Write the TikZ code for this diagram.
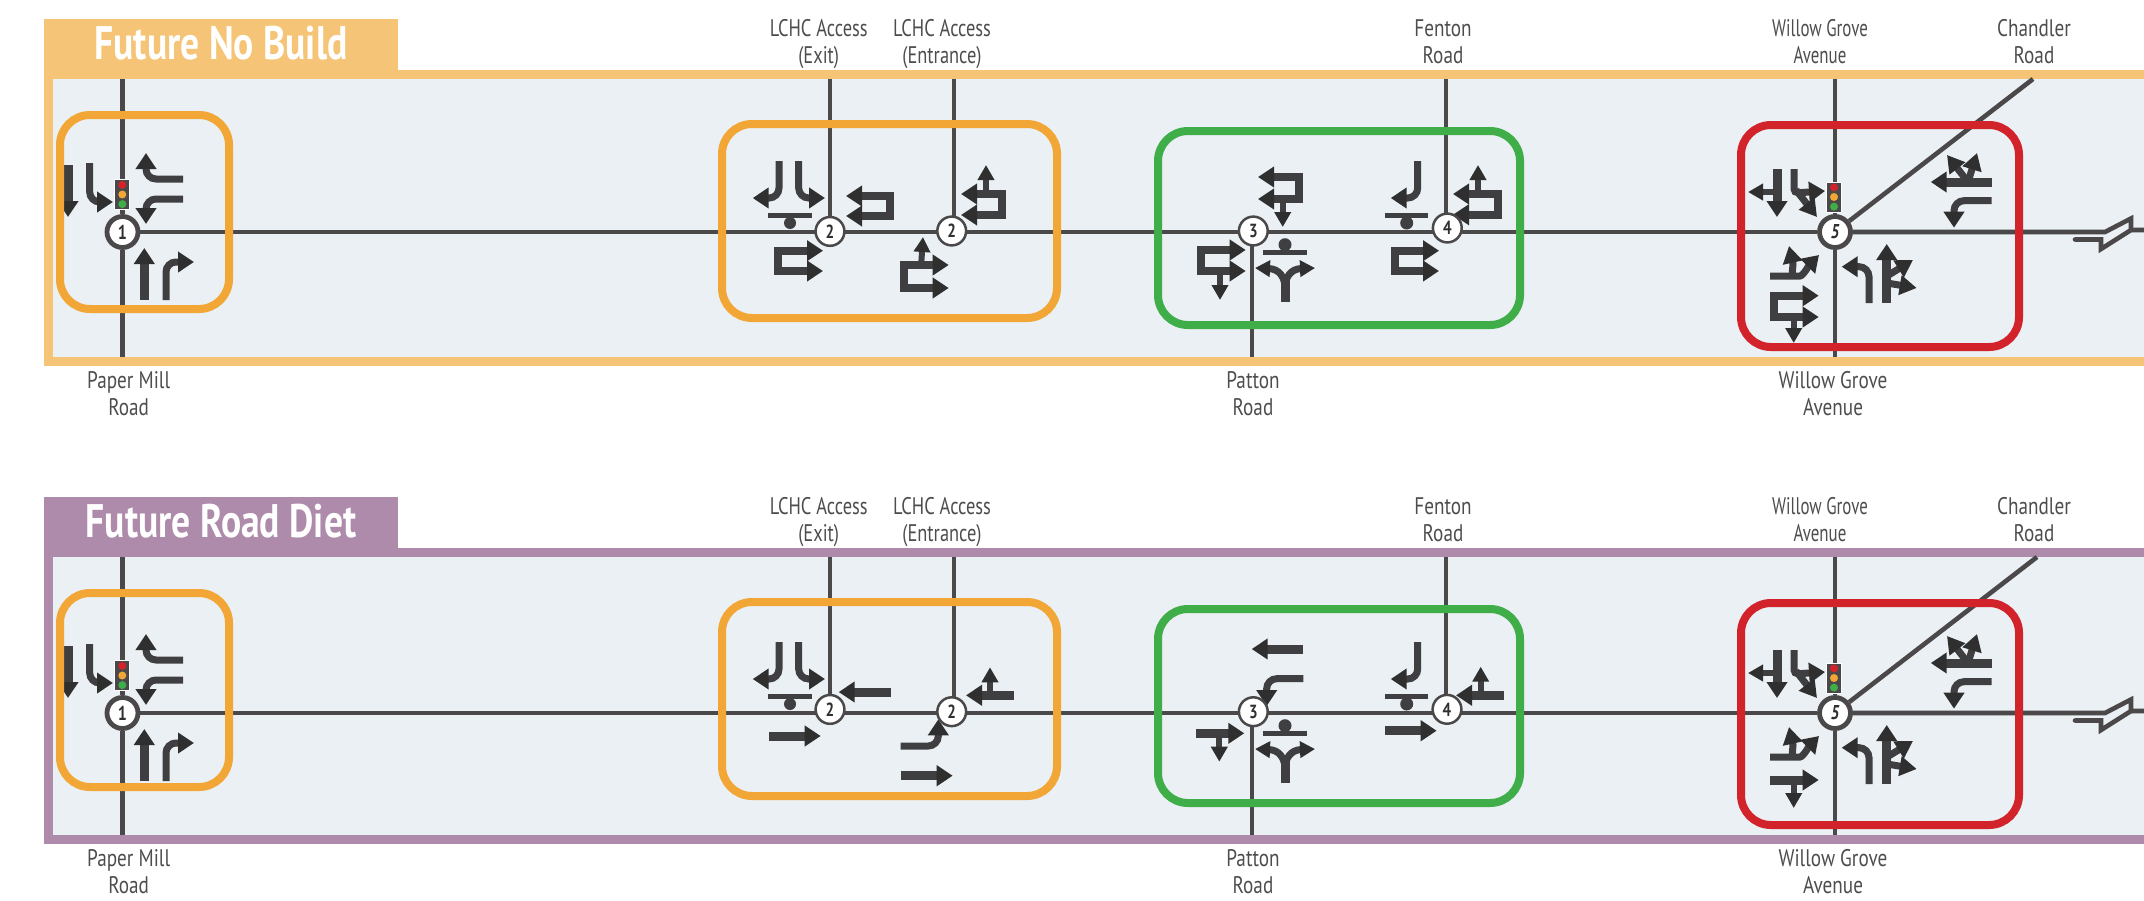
\documentclass[tikz,border=0pt]{standalone}
\usepackage{fontspec}
\setmainfont[FakeStretch=0.8]{PT Sans}
\usetikzlibrary{arrows.meta,backgrounds}
\definecolor{panelbg}{HTML}{EAF0F3}
\definecolor{tabor}{HTML}{F6C476}
\definecolor{tabpu}{HTML}{AE8BAB}
\definecolor{roadc}{HTML}{4A4849}
\definecolor{shaft}{HTML}{3F3E40}
\definecolor{headc}{HTML}{2F2F2F}
\definecolor{boxor}{HTML}{F2A636}
\definecolor{boxgr}{HTML}{3FAE49}
\definecolor{boxre}{HTML}{D2232A}
\definecolor{labc}{HTML}{4D4D4F}
\pgfdeclarelayer{nodes}
\pgfsetlayers{background,main,nodes}
\tikzset{
  road/.style={draw=roadc,line width=4.6pt},
  bighead/.tip={Triangle[length=16pt,width=20pt,color=headc]},
  subhead/.tip={Triangle[length=15pt,width=16pt,color=headc]},
  diaghead/.tip={Triangle[length=17pt,width=19pt,color=headc]},
  thr/.style={draw=shaft,line width=9pt,-{bighead}},
  turn/.style={draw=shaft,line width=7pt,rounded corners=10pt,-{bighead}},
  split/.style={draw=shaft,line width=7pt,-{subhead}},
  sub/.style={draw=shaft,line width=6pt,-{subhead}},
  diag/.style={draw=shaft,line width=7pt,-{diaghead}},
  lane/.style={draw=shaft,line width=8pt,miter limit=10,{bighead}-{bighead}},
  bar/.style={draw=shaft,line width=5pt},
  stopdot/.style={fill=shaft},
  regbox/.style={line width=8pt,rounded corners=30pt},
  numA/.style={circle,draw=roadc,fill=white,line width=4.8pt,minimum size=31pt,inner sep=0pt,text=headc,font=\fontsize{20}{20}\selectfont\bfseries},
  numB/.style={circle,draw=roadc,fill=white,line width=2.5pt,minimum size=28.8pt,inner sep=0pt,text=headc,font=\fontsize{19}{19}\selectfont\bfseries},
  sigbox/.style={rectangle,draw=white,line width=.7pt,fill=roadc,minimum width=15pt,minimum height=30pt,inner sep=0pt},
  lab/.style={text=labc,align=center,inner sep=0pt,font=\fontsize{24}{27}\selectfont},
  ttl/.style={text=white,anchor=base,inner sep=0pt,font=\fontsize{47}{47}\selectfont\bfseries}
}
% frame: prefix, colour, title, offset
\newcommand{\panelframe}[4]{%
  \begin{scope}[shift={(0,#4)}]
    \fill[panelbg] (48.5,74.5) rectangle (2150,361.5);
    \fill[#2] (44,19) rectangle (398,74);
    \draw[#2,line width=9pt] (2150,74.5) -- (48.5,74.5) -- (48.5,361.5) -- (2150,361.5);
    \node[ttl] (#1title) at (221,59) {#3};
    \coordinate (#1top) at (0,79);
    \coordinate (#1bot) at (0,357);
    \coordinate (#1exit) at (830,79);
    \coordinate (#1ent) at (954,79);
    \coordinate (#1fen) at (1446,79);
    \coordinate (#1pat) at (1252,357);
  \end{scope}}
% region boxes and road labels
\newcommand{\panellabels}[2]{%
  \begin{scope}[shift={(0,#2)}]
    \draw[boxor,regbox] (60,115) rectangle (229,309);
    \draw[boxor,regbox] (722,124) rectangle (1057,318);
    \draw[boxgr,regbox] (1158,131) rectangle (1520,325);
    \draw[boxre,regbox] (1741,125) rectangle (2019,347);
    \node[lab] (#1l1) at (128.7,394) {Paper Mill\\Road};
    \node[lab,xscale=.96] (#1l2) at (818.7,44.5) {LCHC Access\\(Exit)};
    \node[lab,xscale=.96] (#1l3) at (942,44.5) {LCHC Access\\(Entrance)};
    \node[lab] (#1l4) at (1253,394) {Patton\\Road};
    \node[lab] (#1l5) at (1443,41.5) {Fenton\\Road};
    \node[lab,xscale=.88] (#1l6) at (1820,41.5) {Willow Grove\\Avenue};
    \node[lab] (#1l7) at (2034,41.5) {Chandler\\Road};
    \node[lab] (#1l8) at (1833,394) {Willow Grove\\Avenue};
  \end{scope}}
% roads: prefix, offset, chandler top x
\newcommand{\panelroads}[3]{%
  \coordinate (#1chand) at (#3,0 |- #1top);
  \draw[road] (#1n1) -- (#1n5);
  \draw[road] (#1n1) -- (#1n1 |- #1top);
  \draw[road] (#1n1) -- (#1n1 |- #1bot);
  \draw[road] (#1exit) -- (#1exit |- #1n2a);
  \draw[road] (#1ent) -- (#1ent |- #1n2b);
  \draw[road] (#1fen) -- (#1fen |- #1n4);
  \draw[road] (#1pat) -- (#1pat |- #1n3);
  \draw[road] (#1n5) -- (#1n5 |- #1top);
  \draw[road] (#1n5) -- (#1n5 |- #1bot);
  \draw[road] (#1n5) -- (#1chand);
  \begin{scope}[shift={(0,#2)}]
    \draw[road] (#1n5) -- (2105,232) -- (2131,218.5) -- (2131,232);
    \draw[road,line cap=round] (2075,239.5) -- (2101,239.5) -- (2101,249) -- (2131,230) -- (2150,230);
  \end{scope}}
% arrows that are the same in both panels
\newcommand{\commonarrows}[1]{%
  \begin{scope}[shift={(0,#1)}]
    \draw[thr] (68,165) -- (68,217);
    \draw[turn] (89.7,163) -- (89.7,202) -- (113,202);
    \draw[turn] (183,179) -- (146,179) -- (146,153);
    \draw[turn] (183,199) -- (146,199) -- (146,224);
    \draw[thr] (144.3,300) -- (144.3,248);
    \draw[turn] (166,300) -- (166,262) -- (194,262);
    % exit
    \draw[turn] (779,161) -- (779,198) -- (752.7,198);
    \draw[turn] (798.7,161) -- (798.7,198) -- (825,198);
    \draw[bar] (768,215.7) -- (812,215.7);
    \fill[stopdot] (790,223) circle (6pt);
    % intersection 3 stop and split
    \draw[bar] (1263,252) -- (1307,252);
    \fill[stopdot] (1285,244.7) circle (6.5pt);
    \draw[draw=shaft,line width=9pt] (1285,302) -- (1285,278);
    \draw[split] (1285,288) .. controls (1285,277) and (1279,269) .. (1255,268);
    \draw[split] (1285,288) .. controls (1285,277) and (1291,269) .. (1315,268);
    % intersection 4
    \draw[turn] (1417.7,161) -- (1417.7,198) -- (1390.7,198);
    \draw[bar] (1385,215) -- (1428,215);
    \fill[stopdot] (1406.7,223) circle (6.5pt);
    % intersection 5
    \draw[thr] (1777,169) -- (1777,217);
    \draw[sub] (1777,192) -- (1748,192);
    \draw[turn,rounded corners=4pt] (1794,169) -- (1794,193) -- (1825,191);
    \draw[diag] (1796,190) -- (1817,217);
    \draw[thr] (1991.7,182) -- (1930.7,182);
    \draw[diag] (1968,182) -- (1947,155);
    \draw[diag] (1968,182) -- (1977,153);
    \draw[turn] (1991.7,200.7) -- (1954,200.7) -- (1954,227.7);
    \draw[turn] (1770,276) -- (1790,276) .. controls (1803,276) and (1810,264) .. (1819,255);
    \draw[diag] (1792,276) -- (1793,264) -- (1789,246);
    \draw[turn] (1869,303) -- (1869,266.7) -- (1841.7,266.7);
    \draw[thr] (1886.7,303) -- (1886.7,244);
    \draw[diag] (1887,276) -- (1913,260);
    \draw[diag] (1887,283) -- (1916.7,288);
  \end{scope}}
\newcommand{\signal}[4]{% name, x, y, dy of lights
  \node[sigbox] (#1) at (#2,#3) {};
  \fill[boxre] (#2,#3-9.6) circle (4pt);
  \fill[boxor] (#2,#3) circle (4pt);
  \fill[boxgr] (#2,#3+9.6) circle (4pt);}
\begin{document}
\begin{tikzpicture}[x=1pt,y=-1pt]
\clip (0,0) rectangle (2144,900);
% ---- panel A: Future No Build
\begin{pgfonlayer}{nodes}
  \node[numA] (an1) at (122.5,232) {1};
  \node[numB] (an2a) at (830,231.4) {2};
  \node[numB] (an2b) at (951.7,231) {2};
  \node[numB] (an3) at (1253.3,231) {3};
  \node[numB] (an4) at (1447.3,228) {4};
  \node[numA] (an5) at (1835,232) {\itshape 5};
  \signal{asig1}{122.3}{194.5}{0}
  \signal{asig5}{1834}{197}{0}
\end{pgfonlayer}
\begin{pgfonlayer}{background}
  \panelframe{a}{tabor}{Future No Build}{0}
  \panelroads{a}{0}{2033}
\end{pgfonlayer}
\commonarrows{0}
\draw[lane] (846,196) -- (890,196) -- (890,216) -- (846,216);
\draw[lane] (823,250.7) -- (778,250.7) -- (778,271) -- (823,271);
\draw[lane] (948.7,265) -- (904,265) -- (904,288) -- (948.7,288);
\draw[sub] (921,267) -- (923,237);
\draw[lane] (961,194) -- (1002,194) -- (1002,215) -- (961,215);
\draw[sub] (986,196) -- (986,165);
\draw[lane] (1258,177) -- (1299,177) -- (1299,199) -- (1258,199);
\draw[sub] (1282.7,197) -- (1282.7,227);
\draw[lane] (1245.7,250) -- (1200.7,250) -- (1200.7,271) -- (1245.7,271);
\draw[sub] (1220,269) -- (1220,300);
\draw[lane] (1453,194) -- (1497.7,194) -- (1497.7,214.7) -- (1453,214.7);
\draw[sub] (1478,196) -- (1478,165);
\draw[lane] (1439,250.7) -- (1395,250.7) -- (1395,271) -- (1439,271);
\draw[lane] (1818.7,295.7) -- (1774,295.7) -- (1774,317) -- (1818.7,317);
\draw[sub] (1793.7,315) -- (1793.7,343);
\panellabels{a}{0}
% ---- panel B: Future Road Diet
\begin{pgfonlayer}{nodes}
  \node[numA] (bn1) at (122.5,713) {1};
  \node[numB] (bn2a) at (830,709.4) {2};
  \node[numB] (bn2b) at (951.7,711.7) {2};
  \node[numB] (bn3) at (1253.3,711.7) {3};
  \node[numB] (bn4) at (1447,709.3) {4};
  \node[numA] (bn5) at (1835,713) {\itshape 5};
  \signal{bsig1}{122.3}{675.5}{0}
  \signal{bsig5}{1834}{678}{0}
\end{pgfonlayer}
\begin{pgfonlayer}{background}
  \panelframe{b}{tabpu}{Future Road Diet}{478}
  \panelroads{b}{481}{2037}
\end{pgfonlayer}
\commonarrows{481}
\draw[thr] (890.7,692) -- (838.7,692);
\draw[thr] (769,736) -- (820.7,736);
\draw[thr] (1014,695.3) -- (966,695.3);
\draw[sub] (990,695.3) -- (990,667.3);
\draw[turn] (900.7,746) -- (938.3,746) -- (938.3,719.3);
\draw[thr] (900.7,775.7) -- (952.7,775.7);
\draw[thr] (1303.3,649) -- (1251.7,649);
\draw[turn] (1303.3,678.7) -- (1266.7,678.7) -- (1266.7,706);
\draw[thr] (1196,733.3) -- (1244.3,733.3);
\draw[sub] (1219.3,733.3) -- (1219.3,761.7);
\draw[thr] (1504.3,695.3) -- (1456,695.3);
\draw[sub] (1480.7,695.3) -- (1480.7,666.7);
\draw[thr] (1385,730.7) -- (1436.7,730.7);
\draw[thr] (1770,780) -- (1818.7,780);
\draw[sub] (1793.7,780) -- (1793.7,808);
\panellabels{b}{478}
\end{tikzpicture}
\end{document}
